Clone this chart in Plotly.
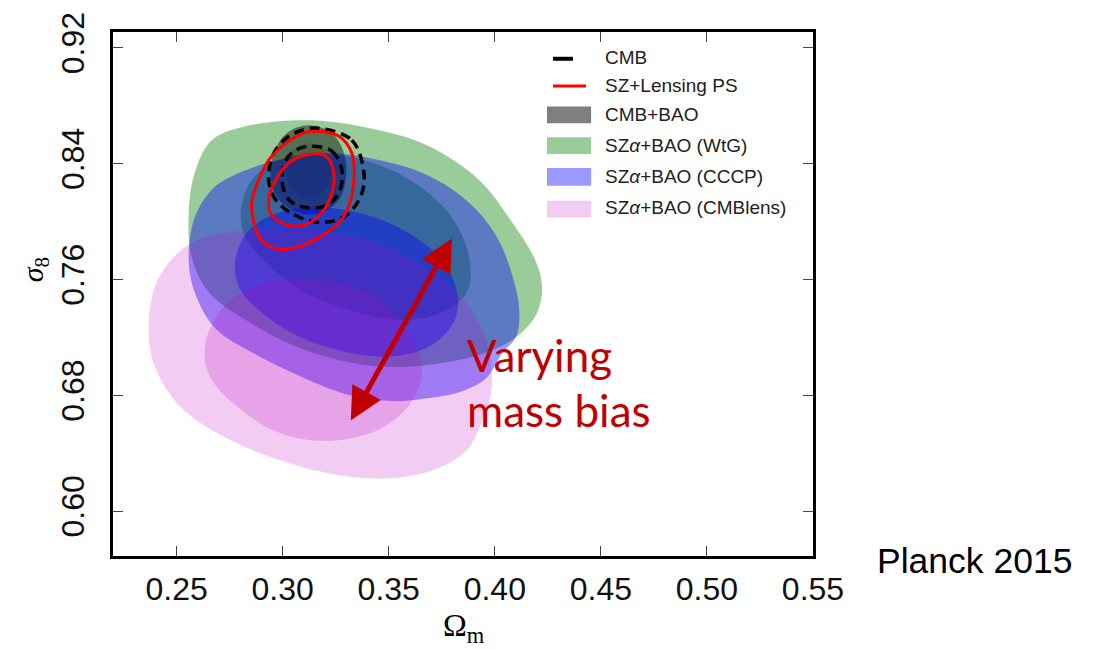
import plotly.graph_objects as go

# ---------------- data (data units) ----------------
# SZ alpha + BAO (WtG) : outer (2 sigma) and inner (1 sigma) contours
wtg_outer_x = [0.2665, 0.2826, 0.3137, 0.3454, 0.3690, 0.3926, 0.4082, 0.4195, 0.4223, 0.4195,
               0.4115, 0.3973, 0.3737, 0.3454, 0.3123, 0.2840, 0.2651, 0.2571, 0.2557, 0.2585]
wtg_outer_y = [0.8563, 0.8659, 0.8700, 0.8631, 0.8521, 0.8288, 0.7994, 0.7720, 0.7534, 0.7356,
               0.7219, 0.7103, 0.7020, 0.7000, 0.7103, 0.7308, 0.7514, 0.7754, 0.8062, 0.8336]
wtg_inner_x = [0.2802, 0.2840, 0.2934, 0.3076, 0.3265, 0.3454, 0.3643, 0.3798, 0.3879, 0.3869,
               0.3737, 0.3548, 0.3312, 0.3076, 0.2897, 0.2826]
wtg_inner_y = [0.8042, 0.8254, 0.8391, 0.8460, 0.8460, 0.8391, 0.8247, 0.8028, 0.7754, 0.7514,
               0.7363, 0.7322, 0.7390, 0.7534, 0.7754, 0.7891]

# SZ alpha + BAO (CCCP)
cccp_outer_x = [0.2585, 0.2675, 0.2793, 0.2982, 0.3218, 0.3454, 0.3690, 0.3879, 0.4006, 0.4082,
                0.4115, 0.4101, 0.4034, 0.3959, 0.3846, 0.3690, 0.3534, 0.3298, 0.3062, 0.2873,
                0.2684, 0.2590, 0.2557]
cccp_outer_y = [0.8028, 0.8234, 0.8336, 0.8425, 0.8473, 0.8425, 0.8316, 0.8131, 0.7905, 0.7630,
                0.7397, 0.7206, 0.7089, 0.6918, 0.6829, 0.6781, 0.6760, 0.6808, 0.6945, 0.7082,
                0.7260, 0.7493, 0.7720]
cccp_inner_x = [0.2779, 0.2840, 0.2958, 0.3137, 0.3359, 0.3572, 0.3737, 0.3822, 0.3808, 0.3690,
                0.3501, 0.3288, 0.3076, 0.2897, 0.2793]
cccp_inner_y = [0.7754, 0.7939, 0.8049, 0.8097, 0.8062, 0.7939, 0.7754, 0.7514, 0.7308, 0.7137,
                0.7068, 0.7103, 0.7206, 0.7377, 0.7548]

# SZ alpha + BAO (CMBlens)
lens_outer_x = [0.2509, 0.2627, 0.2920, 0.3232, 0.3548, 0.3784, 0.3940, 0.3987, 0.3940, 0.3865,
                0.3704, 0.3468, 0.3156, 0.2760, 0.2524, 0.2401, 0.2368, 0.2401]
lens_outer_y = [0.7788, 0.7891, 0.7946, 0.7925, 0.7788, 0.7562, 0.7260, 0.6877, 0.6623, 0.6417,
                0.6280, 0.6225, 0.6280, 0.6486, 0.6712, 0.6986, 0.7219, 0.7562]
lens_inner_x = [0.2637, 0.2722, 0.2840, 0.3076, 0.3392, 0.3581, 0.3657, 0.3610, 0.3468, 0.3232,
                0.2996, 0.2793, 0.2651]
lens_inner_y = [0.7171, 0.7411, 0.7534, 0.7603, 0.7514, 0.7260, 0.6986, 0.6760, 0.6575, 0.6486,
                0.6534, 0.6712, 0.6945]

# CMB + BAO
cmbbao_outer_x = [0.3123, 0.3232, 0.3289, 0.3298, 0.3265, 0.3180, 0.3076, 0.2982, 0.2944, 0.2958, 0.3019]
cmbbao_outer_y = [0.8665, 0.8611, 0.8473, 0.8302, 0.8151, 0.8062, 0.8062, 0.8151, 0.8302, 0.8473, 0.8611]
cmbbao_inner_x = [0.3123, 0.3199, 0.3232, 0.3199, 0.3123, 0.3048, 0.3015, 0.3048]
cmbbao_inner_y = [0.8542, 0.8494, 0.8357, 0.8213, 0.8165, 0.8213, 0.8357, 0.8494]

# CMB (dashed lines)
cmb_outer_x = [0.3170, 0.3326, 0.3383, 0.3369, 0.3298, 0.3185, 0.3062, 0.2967, 0.2934, 0.2958, 0.3029, 0.3109]
cmb_outer_y = [0.8645, 0.8563, 0.8336, 0.8179, 0.8042, 0.7994, 0.8042, 0.8151, 0.8288, 0.8473, 0.8590, 0.8638]
cmb_inner_x = [0.3137, 0.3232, 0.3279, 0.3265, 0.3203, 0.3109, 0.3029, 0.2996, 0.3015, 0.3062]
cmb_inner_y = [0.8521, 0.8487, 0.8357, 0.8199, 0.8110, 0.8097, 0.8151, 0.8288, 0.8425, 0.8494]

# SZ + Lensing PS (red lines)
szl_outer_x = [0.3137, 0.3265, 0.3326, 0.3336, 0.3312, 0.3265, 0.3156, 0.3062, 0.2982, 0.2901,
               0.2864, 0.2854, 0.2887, 0.2934, 0.3015, 0.3076]
szl_outer_y = [0.8624, 0.8590, 0.8473, 0.8288, 0.8110, 0.7994, 0.7877, 0.7822, 0.7809, 0.7870,
               0.7994, 0.8131, 0.8288, 0.8425, 0.8542, 0.8597]
szl_inner_x = [0.3109, 0.3203, 0.3241, 0.3232, 0.3185, 0.3109, 0.3029, 0.2949, 0.2934, 0.2967, 0.3029]
szl_inner_y = [0.8460, 0.8453, 0.8336, 0.8199, 0.8062, 0.7980, 0.7973, 0.8042, 0.8151, 0.8288, 0.8405]

# double arrow "varying mass bias" (data units)
arrow_top = (0.3798, 0.7884)
arrow_bottom = (0.3317, 0.6616)

x_ticks = [0.25, 0.30, 0.35, 0.40, 0.45, 0.50, 0.55]
y_ticks = [0.60, 0.68, 0.76, 0.84, 0.92]
x_range = [0.22, 0.55]
y_range = [0.569, 0.931]

legend_labels = ["CMB", "SZ+Lensing PS", "CMB+BAO", "SZ<i>α</i>+BAO (WtG)",
                 "SZ<i>α</i>+BAO (CCCP)", "SZ<i>α</i>+BAO (CMBlens)"]

# ---------------- styles ----------------
GREEN = "rgba(0,128,0,0.4)"
BLUE = "rgba(0,0,255,0.4)"
PINK = "rgba(191,0,191,0.2)"
GREY = "rgba(0,0,0,0.45)"
DARKRED = "#C00000"
SANS = "Liberation Sans, Arial, sans-serif"
SERIF = "Liberation Serif, DejaVu Serif, serif"


def closed(v):
    return list(v) + [v[0]]


fig = go.Figure()


def add_fill(xs, ys, color):
    fig.add_trace(go.Scatter(x=closed(xs), y=closed(ys), mode="lines", fill="toself",
                             fillcolor=color, line=dict(width=0, shape="spline", smoothing=1.0),
                             hoverinfo="skip", showlegend=False))


def add_line(xs, ys, color, dash, width):
    fig.add_trace(go.Scatter(x=closed(xs), y=closed(ys), mode="lines",
                             line=dict(color=color, width=width, dash=dash, shape="spline", smoothing=1.0),
                             hoverinfo="skip", showlegend=False))


add_fill(wtg_outer_x, wtg_outer_y, GREEN)
add_fill(wtg_inner_x, wtg_inner_y, GREEN)
add_fill(cmbbao_outer_x, cmbbao_outer_y, GREY)
add_fill(cmbbao_inner_x, cmbbao_inner_y, "rgba(0,0,0,0.12)")
add_fill(cccp_outer_x, cccp_outer_y, BLUE)
add_fill(cccp_inner_x, cccp_inner_y, BLUE)
add_fill(lens_outer_x, lens_outer_y, PINK)
add_fill(lens_inner_x, lens_inner_y, PINK)
add_line(cmb_outer_x, cmb_outer_y, "black", "10px,6px", 3.5)
add_line(cmb_inner_x, cmb_inner_y, "black", "10px,6px", 3.5)
add_line(szl_outer_x, szl_outer_y, "red", "solid", 3)
add_line(szl_inner_x, szl_inner_y, "red", "solid", 3)

axis_common = dict(showline=True, linewidth=3, linecolor="black", mirror="ticks",
                   ticks="inside", ticklen=10, tickwidth=1.3, tickcolor="#444",
                   showgrid=False, zeroline=False,
                   tickfont=dict(family=SANS, size=32, color="#111"))

fig.update_xaxes(range=x_range, tickvals=x_ticks, ticktext=[f"{v:.2f}" for v in x_ticks],
                 ticklabelstandoff=3, **axis_common)
fig.update_yaxes(range=y_range, tickvals=y_ticks, ticktext=[f"{v:.2f}" for v in y_ticks],
                 tickangle=-90, ticklabelstandoff=13, **axis_common)

# ---- custom legend (paper coordinates) ----
shapes = []
shapes.append(dict(type="line", xref="paper", yref="paper", x0=0.6286, x1=0.6571, y0=0.9489, y1=0.9489,
                   line=dict(color="black", width=4)))
shapes.append(dict(type="line", xref="paper", yref="paper", x0=0.6286, x1=0.6757, y0=0.8968, y1=0.8968,
                   line=dict(color="red", width=3)))
patch_rows = [(0.8258, 0.8580, "rgba(0,0,0,0.5)"), (0.7670, 0.7992, GREEN),
              (0.7064, 0.7405, BLUE), (0.6458, 0.6780, PINK)]
for y0, y1, c in patch_rows:
    shapes.append(dict(type="rect", xref="paper", yref="paper", x0=0.620, x1=0.683, y0=y0, y1=y1,
                       fillcolor=c, line=dict(width=0)))

annotations = []
legend_y = [0.9508, 0.8977, 0.8419, 0.7841, 0.7248, 0.6648]
for lab, yy in zip(legend_labels, legend_y):
    annotations.append(dict(text=lab, xref="paper", yref="paper", x=0.7000, y=yy, xanchor="left",
                            yanchor="middle", showarrow=False,
                            font=dict(family=SANS, size=19, color="#222")))

# arrow
annotations.append(dict(x=arrow_top[0], y=arrow_top[1], ax=arrow_bottom[0], ay=arrow_bottom[1],
                        xref="x", yref="y", axref="x", ayref="y", text="", showarrow=True,
                        arrowhead=2, startarrowhead=2, arrowside="end+start", arrowsize=1.3,
                        startarrowsize=1.3, arrowwidth=5, arrowcolor=DARKRED, standoff=0, startstandoff=0))

annotations.append(dict(text="Varying", xref="paper", yref="paper", x=0.5030, y=0.3840,
                        xanchor="left", yanchor="middle", showarrow=False,
                        font=dict(family="Lato, Open Sans, sans-serif", size=44, color=DARKRED)))
annotations.append(dict(text="mass bias", xref="paper", yref="paper", x=0.5030, y=0.2790,
                        xanchor="left", yanchor="middle", showarrow=False,
                        font=dict(family="Lato, Open Sans, sans-serif", size=44, color=DARKRED)))
annotations.append(dict(text="Planck 2015", xref="paper", yref="paper", x=1.0880, y=-0.009,
                        xanchor="left", yanchor="middle", showarrow=False,
                        font=dict(family=SANS, size=35.5, color="black")))
annotations.append(dict(text="<i>σ</i><sub>8</sub>", xref="paper", yref="paper", x=-0.1114, y=0.5455,
                        xanchor="center", yanchor="middle", showarrow=False, textangle=-90,
                        font=dict(family=SERIF, size=30, color="black")))
annotations.append(dict(text="Ω<sub>m</sub>", xref="paper", yref="paper", x=0.5014, y=-0.136,
                        xanchor="center", yanchor="middle", showarrow=False,
                        font=dict(family=SERIF, size=32, color="black")))

fig.update_layout(width=1101, height=650, margin=dict(l=113, r=288, t=28, b=94),
                  plot_bgcolor="white", paper_bgcolor="white",
                  shapes=shapes, annotations=annotations, showlegend=False)

fig.write_html("out.html", config={"displayModeBar": False},
               post_script="document.body.style.margin='0';document.body.style.overflow='hidden';")
